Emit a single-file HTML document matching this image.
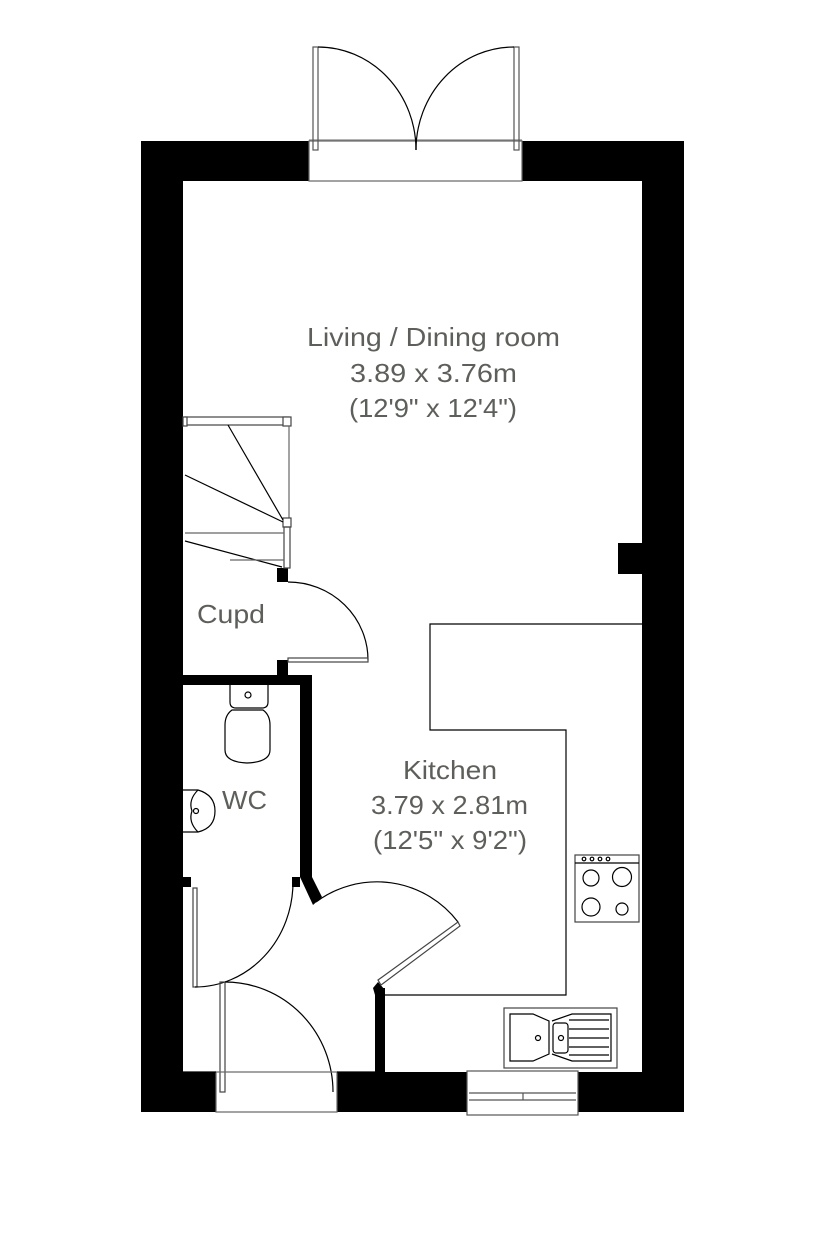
<!DOCTYPE html>
<html><head><style>html,body{margin:0;padding:0;background:#fff}svg{display:block}</style></head>
<body>
<svg width="825" height="1253" viewBox="0 0 825 1253" xmlns="http://www.w3.org/2000/svg">
<g fill="#000">
<rect x="141" y="141" width="168" height="40"/>
<rect x="522" y="141" width="162" height="40"/>
<rect x="141" y="141" width="42" height="971"/>
<rect x="642" y="141" width="42" height="971"/>
<rect x="141" y="1072" width="75" height="40"/>
<rect x="337" y="1072" width="130" height="40"/>
<rect x="578" y="1072" width="106" height="40"/>
<rect x="618" y="543" width="24" height="31"/>
<rect x="183" y="675" width="127" height="10"/>
<rect x="300" y="675" width="12" height="202"/>
<polygon points="300,877 312,877 322,897 313,905"/>
<rect x="277" y="568" width="11" height="14"/>
<rect x="277" y="660" width="11" height="15"/>
<rect x="183" y="877" width="8" height="10"/>
<rect x="292" y="877" width="8" height="10"/>
<rect x="375" y="988" width="10" height="84"/>
<polygon points="373,988 378,982 385,990 385,995 375,995"/>
</g>
<g fill="none" stroke="#000" stroke-width="1.2">
<line x1="309" y1="140" x2="522" y2="140" stroke="#888"/>
<rect x="309" y="141" width="213" height="40" stroke="#666"/>
<rect x="313" y="47" width="5" height="103" stroke="#555"/>
<rect x="514" y="47" width="5" height="103" stroke="#555"/>
<path d="M318,47 A98,103 0 0 1 416,150"/>
<path d="M514,47 A98,103 0 0 0 416,150"/>
<line x1="416" y1="140" x2="416" y2="150"/>
<rect x="185" y="417" width="104" height="8" stroke="#444"/>
<rect x="283" y="417" width="8" height="9" stroke="#444" fill="#fff"/>
<rect x="183" y="417" width="4" height="9" stroke="#444" fill="#fff"/>
<line x1="289" y1="426" x2="289" y2="518" stroke="#666"/>
<rect x="283" y="518" width="8" height="9" stroke="#444" fill="#fff"/>
<rect x="284" y="527" width="6" height="41" stroke="#444"/>
<line x1="228" y1="425" x2="283" y2="520"/>
<line x1="185" y1="475" x2="283" y2="522"/>
<line x1="185" y1="533" x2="284" y2="533" stroke="#666"/>
<line x1="185" y1="541" x2="282" y2="567"/>
<line x1="230" y1="560" x2="284" y2="560" stroke="#666"/>
<path d="M288,582 A80,78 0 0 1 368,660"/>
<rect x="288" y="658" width="80" height="4" stroke="#444"/>
<path d="M230,685 L230,702 Q230,708 236,708 L262,708 Q268,708 268,702 L268,685" />
<circle cx="248" cy="695" r="3"/>
<path d="M232,710 Q225,715 225,725 L225,750 Q225,762 247,763 Q270,762 270,750 L270,725 Q270,715 263,710 Z"/>
<path d="M183,790 L198,790 Q215,795 215,811 Q215,828 198,832 L183,832"/>
<path d="M198,790 Q188,800 192,811 Q188,822 198,832"/>
<circle cx="196" cy="811" r="2.5"/>
<rect x="193" y="888" width="4" height="99" stroke="#444"/>
<path d="M195,987 A98,105 0 0 0 293,882"/>
<rect x="220" y="982" width="5" height="110" stroke="#444"/>
<path d="M225,982 A108,110 0 0 1 333,1092"/>
<rect x="216" y="1072" width="121" height="40" stroke="#666"/>
<path d="M316,902 A102,102 0 0 1 458,922"/>
<polygon points="378,980 458,922 460,926 381,985" stroke="#444"/>
<polyline points="385,995 566,995 566,730 430,730 430,624 642,624"/>
<rect x="575" y="855" width="64" height="67" stroke="#444"/>
<line x1="575" y1="863" x2="639" y2="863"/>
<circle cx="584" cy="859" r="1.8"/><circle cx="592" cy="859" r="1.8"/><circle cx="600" cy="859" r="1.8"/><circle cx="608" cy="859" r="1.8"/>
<circle cx="591" cy="878" r="8"/><circle cx="622" cy="877" r="9.5"/>
<circle cx="591" cy="907" r="9"/><circle cx="622" cy="909" r="6"/>
<rect x="504" y="1008" width="113" height="60" stroke="#444"/>
<path d="M510,1014 L533,1014 L549,1021 L549,1054 L533,1061 L510,1061 Z"/>
<circle cx="538" cy="1038" r="2.5"/>
<rect x="553" y="1023" width="15" height="30" rx="3"/>
<circle cx="561" cy="1038" r="2.5"/>
<path d="M552,1021 L572,1014 L611,1014 L611,1061 L572,1061 L552,1054"/>
<line x1="569" y1="1020" x2="609" y2="1020"/><line x1="569" y1="1029" x2="609" y2="1029"/><line x1="569" y1="1038" x2="609" y2="1038"/><line x1="569" y1="1047" x2="609" y2="1047"/><line x1="569" y1="1055" x2="609" y2="1055"/>
<rect x="467" y="1071" width="111" height="44" stroke="#555"/>
<line x1="469" y1="1093" x2="576" y2="1093" stroke="#555"/>
<line x1="469" y1="1100" x2="576" y2="1100" stroke="#555"/>
<line x1="523" y1="1093" x2="523" y2="1100" stroke="#555"/>
<line x1="183" y1="1072" x2="216" y2="1072"/>
<line x1="337" y1="1072" x2="375" y2="1072"/>
</g>
<g font-family="Liberation Sans, sans-serif" font-size="26" fill="#5d605a" lengthAdjust="spacingAndGlyphs">
<text x="307" y="346" textLength="253" lengthAdjust="spacingAndGlyphs">Living / Dining room</text>
<text x="350" y="382" textLength="167" lengthAdjust="spacingAndGlyphs">3.89 x 3.76m</text>
<text x="349" y="417" textLength="168" lengthAdjust="spacingAndGlyphs">(12'9" x 12'4")</text>
<text x="403" y="779" textLength="94" lengthAdjust="spacingAndGlyphs">Kitchen</text>
<text x="371" y="814" textLength="157" lengthAdjust="spacingAndGlyphs">3.79 x 2.81m</text>
<text x="373" y="849" textLength="154" lengthAdjust="spacingAndGlyphs">(12'5" x 9'2")</text>
<text x="197" y="623" textLength="68" lengthAdjust="spacingAndGlyphs">Cupd</text>
<text x="222" y="809" textLength="45" lengthAdjust="spacingAndGlyphs">WC</text>
</g>
</svg>
</body></html>
